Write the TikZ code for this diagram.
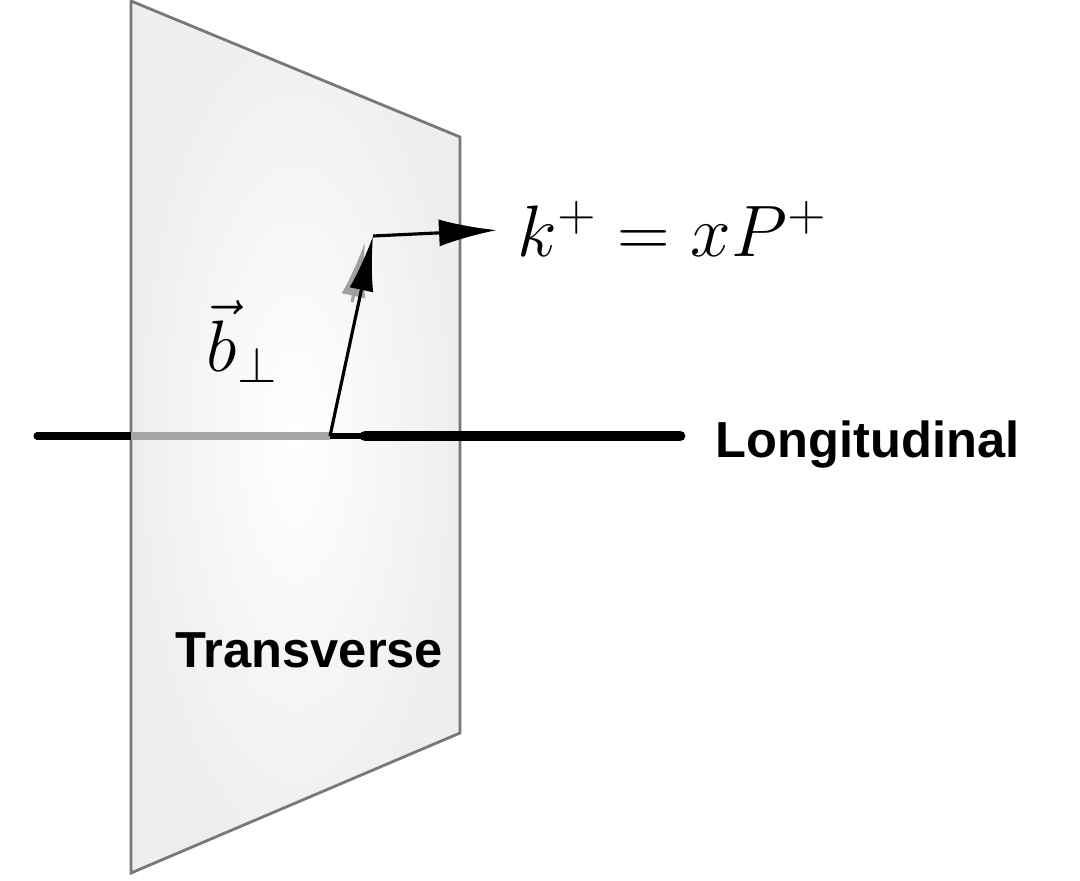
\documentclass[tikz,border=0pt]{standalone}
\usepackage{fontspec}
\newfontfamily\labelfont{Liberation Sans}
\usepackage{tikz}
\usetikzlibrary{arrows.meta, positioning, calc}
\definecolor{planeedge}{RGB}{120, 120, 120}
\definecolor{planeshade}{RGB}{238, 238, 238}
\definecolor{hiddenline}{RGB}{165, 165, 165}
\definecolor{ghostgray}{RGB}{160, 160, 160}
\tikzset{
  plane/.style          = {draw=planeedge, line width=0.8pt, shading=radial, inner color=white, outer color=planeshade},
  axisthin/.style       = {black, line width=2pt},
  axishid/.style        = {hiddenline, line width=2pt},
  axisthick/.style      = {black, line width=3.1pt},
  vecarrow/.style       = {-{Latex[length=5.5mm, width=2.4mm]}, line width=0.9pt, black},
  ghostarrow/.style     = {-{Latex[length=5.5mm, width=2.4mm]}, line width=0.9pt, ghostgray},
  mathlabel/.style      = {font=\huge, inner sep=0pt},
  planelabel/.style     = {font=\labelfont\bfseries\fontsize{14.4}{17}\selectfont, inner sep=0pt},
}
\begin{document}
\begin{tikzpicture}
  \useasboundingbox (0,0) rectangle (10.8,8.8);

  % transverse plane
  \coordinate (tl) at (1.31,8.79);
  \coordinate (tr) at (4.60,7.43);
  \coordinate (br) at (4.60,1.47);
  \coordinate (bl) at (1.31,0.07);
  \path[plane] (tl) -- (tr) -- (br) -- (bl) -- cycle;

  % longitudinal axis
  \coordinate (axL)  at (0.37,4.44);
  \coordinate (orig) at (3.30,4.44);
  \coordinate (axM)  at (3.65,4.44);
  \coordinate (axR)  at (6.80,4.44);
  \draw[axisthin, line cap=round] (axL) -- (tl |- axL);
  \draw[axishid] (tl |- axL) -- (orig);
  \draw[black, line width=1.7pt] (orig) -- (axM);
  \draw[axisthick, line cap=round] (axM) -- (axR);

  % labels
  \node[mathlabel, anchor=base west] (mom) at (5.17,6.23) {$k^+ = xP^+$};
  \node[mathlabel, anchor=base west] (bperp) at (2.06,5.08) {$\vec{b}_\perp$};
  \node[planelabel, anchor=base west] (longi) at (7.15,4.23) {Longitudinal};
  \node[planelabel, anchor=base west] (trans) at (1.75,2.13) {Transverse};

  % impact parameter and momentum
  \coordinate (kink) at (3.73,6.44);
  \draw[ghostarrow] ($(orig)!0.7!(kink)+(-0.08,-0.06)$) -- ($(kink)+(-0.08,-0.06)$);
  \draw[vecarrow] (orig) -- (kink);
  \draw[vecarrow, -{Latex[length=5.8mm, width=2.7mm]}, shorten >=2mm] (kink) -- (mom.west);
\end{tikzpicture}
\end{document}
